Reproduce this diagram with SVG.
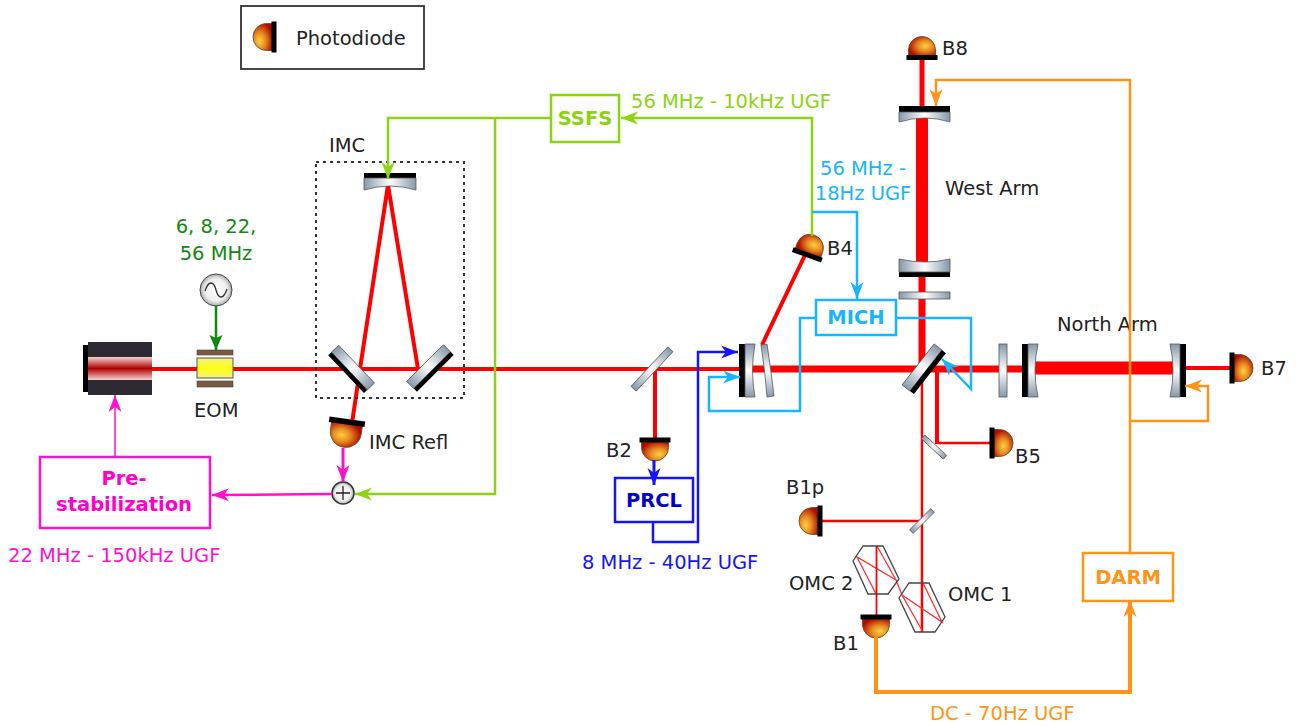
<svg xmlns="http://www.w3.org/2000/svg" xmlns:xlink="http://www.w3.org/1999/xlink" width="1300" height="726" viewBox="0 0 1300 726">
<style>
text{font-family:"DejaVu Sans",sans-serif;font-size:19.5px;fill:#222}
.b{font-weight:bold}
.m{text-anchor:middle}
.beam{stroke:#f00;fill:none}
.c{fill:none;stroke-linejoin:miter}
.box{fill:#fff;stroke-width:2.5}
.blk{fill:#000}
.mh{fill:url(#mH);stroke:#555;stroke-width:.8}
.mv{fill:url(#mV);stroke:#555;stroke-width:.8}
.hex{fill:none;stroke:#444;stroke-width:1.3}
</style>
<defs>
<linearGradient id="mH"><stop offset="0" stop-color="#8599aa"/><stop offset=".5" stop-color="#fff"/><stop offset="1" stop-color="#8599aa"/></linearGradient>
<linearGradient id="mV" x2="0" y2="1"><stop offset="0" stop-color="#8599aa"/><stop offset=".5" stop-color="#fff"/><stop offset="1" stop-color="#8599aa"/></linearGradient>
<linearGradient id="band" x2="0" y2="1"><stop offset="0" stop-color="#f6d4d4"/><stop offset=".5" stop-color="#b00000"/><stop offset="1" stop-color="#f6d4d4"/></linearGradient>
<linearGradient id="yel" x2="0" y2="1"><stop offset="0" stop-color="#f0f080"/><stop offset=".5" stop-color="#ffff10"/><stop offset="1" stop-color="#f0f080"/></linearGradient>
<radialGradient id="pdA" cx=".62" cy=".5" r=".62"><stop offset="0" stop-color="#fbd13f"/><stop offset=".45" stop-color="#e68a22"/><stop offset="1" stop-color="#b00c00"/></radialGradient>
<radialGradient id="pdB" cx=".35" cy=".35" r=".7"><stop offset="0" stop-color="#fbd13f"/><stop offset=".45" stop-color="#e68a22"/><stop offset="1" stop-color="#b00c00"/></radialGradient>
<radialGradient id="grey"><stop offset="0" stop-color="#fff"/><stop offset=".7" stop-color="#eee"/><stop offset="1" stop-color="#aaa"/></radialGradient>
<g id="pa"><path d="M-13.500,0V-5.500A13.500,13.500 0 0 1 13.500,-5.500V0Z" fill="url(#pdA)" stroke="#6a4a28" stroke-width=".9"/><rect x="-15.500" y="-.5" width="31" height="5" class="blk"/></g>
<g id="pb"><path d="M-13.500,0V-5.500A13.500,13.500 0 0 1 13.500,-5.500V0Z" fill="url(#pdB)" stroke="#6a4a28" stroke-width=".9"/><rect x="-15.500" y="-.5" width="31" height="5" class="blk"/></g>
<marker id="aG" markerUnits="userSpaceOnUse" markerWidth="18" markerHeight="15" viewBox="0 -7.500 18 15" refX="17" orient="auto"><path d="M17,0L0,-6.500L5,0L0,6.500Z" fill="#8cd411"/></marker>
<marker id="aC" markerUnits="userSpaceOnUse" markerWidth="18" markerHeight="15" viewBox="0 -7.500 18 15" refX="17" orient="auto"><path d="M17,0L0,-6.500L5,0L0,6.500Z" fill="#18b4ff"/></marker>
<marker id="aB" markerUnits="userSpaceOnUse" markerWidth="18" markerHeight="15" viewBox="0 -7.500 18 15" refX="17" orient="auto"><path d="M17,0L0,-6.500L5,0L0,6.500Z" fill="#1414ff"/></marker>
<marker id="aO" markerUnits="userSpaceOnUse" markerWidth="18" markerHeight="15" viewBox="0 -7.500 18 15" refX="17" orient="auto"><path d="M17,0L0,-6.500L5,0L0,6.500Z" fill="#ff9318"/></marker>
<marker id="aM" markerUnits="userSpaceOnUse" markerWidth="18" markerHeight="15" viewBox="0 -7.500 18 15" refX="17" orient="auto"><path d="M17,0L0,-6.500L5,0L0,6.500Z" fill="#ff10cc"/></marker>
<marker id="aD" markerUnits="userSpaceOnUse" markerWidth="18" markerHeight="15" viewBox="0 -7.500 18 15" refX="15" orient="auto"><path d="M15,0L0,-6.500L3,0L0,6.500Z" fill="#118811"/></marker>
</defs>
<rect width="1300" height="726" fill="#fff"/>

<g id="beams">
<path class="beam" stroke-width="4" d="M152,369H741M388,185L360,369M388,185L418,369M360,369L352,423M655,369V438M762,345L805,255"/>
<path class="beam" stroke-width="7" d="M745,369H1024M922,276V369"/>
<path class="beam" stroke-width="5" d="M922,60V110"/>
<path class="beam" stroke-width="12" d="M922,118V264"/>
<path class="beam" stroke-width="13" d="M1034,368H1174"/>
<path class="beam" stroke-width="4" d="M1184,368H1232M937,369V444"/>
<path class="beam" stroke-width="2.500" d="M937,443H992M922,369V632M822,521H922"/>
<path stroke="#ff3030" fill="none" stroke-width="1.300" d="M923,632L902,595L942,622L923,583M902,595L896,580L857,557L876,594M877,546L896,580"/>
<path class="beam" stroke-width="1.800" d="M876.500,546V617"/>
</g>

<g id="legend"><rect x="241" y="6" width="183" height="63" fill="none" stroke="#333" stroke-width="1.800"/><use xlink:href="#pb" transform="translate(272,37) rotate(-90)"/><text x="296" y="45">Photodiode</text></g>

<g id="laser"><rect x="88" y="342" width="64" height="53" fill="#2d2a33"/><rect x="83" y="345" width="5" height="47" class="blk"/><rect x="88" y="357" width="64" height="23" fill="url(#band)"/></g>

<g id="eom"><rect x="197" y="350" width="36" height="5" fill="#7a5a40" stroke="#444" stroke-width=".6"/><rect x="197" y="358" width="36" height="20" fill="url(#yel)" stroke="#555" stroke-width="1"/><rect x="197" y="381" width="36" height="6" fill="#7a5a40" stroke="#444" stroke-width=".6"/><text x="194" y="417">EOM</text></g>

<g id="oscillator"><circle cx="216" cy="290" r="16" fill="url(#grey)" stroke="#444" stroke-width="1"/><path d="M205,291C209,279 214,282 216,290C218,298 223,301 227,289" fill="none" stroke="#333" stroke-width="1.300"/><text class="m" x="216" y="233" style="fill:#118811">6, 8, 22,</text><text class="m" x="216" y="260" style="fill:#118811">56 MHz</text></g>

<g id="imc"><rect x="316" y="162" width="148" height="236" fill="none" stroke="#333" stroke-width="2" stroke-dasharray="3 4"/>
<rect x="364" y="173" width="52" height="5" class="blk"/><path class="mh" d="M364,178H416V190Q390,182 364,190Z"/>
<g transform="translate(351.500,369) rotate(46.500)"><rect x="-26" y="-7" width="52" height="10" class="mh"/><rect x="-26" y="3" width="52" height="4.500" class="blk"/></g>
<g transform="translate(430,368) rotate(-45)"><rect x="-26" y="-7" width="52" height="10" class="mh"/><rect x="-26" y="3" width="52" height="4.500" class="blk"/></g>
<text x="329" y="152">IMC</text></g>

<g id="imc-refl"><path d="M-15.500,0V-8A15.500,15.500 0 0 1 15.500,-8V0Z" transform="translate(347,424) rotate(188)" fill="url(#pdA)" stroke="#6a4a28" stroke-width=".9"/><rect x="-18" y="-3" width="36" height="5.500" class="blk" transform="translate(347,422) rotate(8)"/><text x="369" y="449">IMC Refl</text></g>
<g id="sum"><circle cx="343" cy="493" r="11" fill="url(#grey)" stroke="#333" stroke-width="1.500"/><path d="M336,493H350M343,486V500" stroke="#222" stroke-width="1.300"/></g>

<g id="prestab"><rect class="box" x="40" y="457" width="170" height="71" stroke="#ff10cc"/><text class="b m" x="124" y="485" style="fill:#ff00cc">Pre-</text><text class="b m" x="124" y="511" style="fill:#ff00cc">stabilization</text></g>
<text x="8" y="562" style="fill:#ff10cc">22 MHz - 150kHz UGF</text>

<g id="b2-pickoff"><g transform="translate(652,369) rotate(-47)"><rect x="-27" y="-3.500" width="54" height="7" class="mh"/></g></g>
<g id="b2"><use xlink:href="#pb" transform="translate(655,442) rotate(180)"/><text x="606" y="457">B2</text></g>
<g id="prcl"><rect class="box" x="615" y="478" width="78" height="44" stroke="#1414ff"/><text class="b m" x="654" y="507" style="fill:#0000cc">PRCL</text></g>
<text x="582" y="569" style="fill:#1414ff">8 MHz - 40Hz UGF</text>

<g id="prm"><rect x="739" y="344" width="6" height="53" class="blk"/><path class="mv" d="M745,344H755Q750,370 755,397H745Z"/><path class="mv" d="M761,345L767,344Q771,370 774,396L767,397Q765,370 761,345Z"/></g>

<g id="bs"><g transform="translate(924,369) rotate(-52)"><rect x="-26" y="-7.500" width="52" height="10" class="mh"/><rect x="-26" y="2.500" width="52" height="5" class="blk"/></g></g>
<g id="west-cp"><rect x="899" y="292" width="51" height="7" class="mh"/></g>
<g id="west-itm"><rect x="899" y="272" width="51" height="5" class="blk"/><path class="mh" d="M899,272V259Q925,265 950,259V272Z"/></g>
<g id="west-etm"><rect x="899" y="106" width="51" height="6" class="blk"/><path class="mh" d="M899,112H950V122Q925,114 899,122Z"/></g>
<g id="north-cp"><rect x="999" y="344" width="8" height="53" class="mv"/></g>
<g id="north-itm"><rect x="1022" y="344" width="6" height="53" class="blk"/><path class="mv" d="M1028,344H1038Q1032,370 1038,397H1028Z"/></g>
<g id="north-etm"><rect x="1180" y="344" width="6" height="53" class="blk"/><path class="mv" d="M1180,344H1170Q1176,370 1170,397H1180Z"/></g>
<text x="945" y="195">West Arm</text>
<text x="1057" y="331">North Arm</text>

<g id="b8"><use xlink:href="#pa" transform="translate(922,55.500)"/><text x="942" y="55">B8</text></g>
<g id="b4"><use xlink:href="#pa" transform="translate(808,253) rotate(20)"/><text x="827" y="255">B4</text></g>
<g id="b7"><use xlink:href="#pa" transform="translate(1234,368) rotate(90)"/><text x="1261" y="375">B7</text></g>
<g id="b5"><use xlink:href="#pa" transform="translate(994,443) rotate(90)"/><text x="1015" y="463">B5</text></g>
<g id="b5-pickoff"><g transform="translate(934,447) rotate(43)"><rect x="-15" y="-2.500" width="30" height="5" class="mh"/></g></g>
<g id="b1p-pickoff"><g transform="translate(922,521) rotate(-45)"><rect x="-15" y="-2.500" width="30" height="5" class="mh"/></g></g>
<g id="b1p"><use xlink:href="#pb" transform="translate(818,521) rotate(-90)"/><text x="786" y="494">B1p</text></g>
<g id="omc1"><path class="hex" d="M909,583H929L945,617L935,632H915L899,598Z"/><text x="948" y="601">OMC 1</text></g>
<g id="omc2"><path class="hex" d="M863,546H883L899,579L888,594H868L853,561Z"/><text x="789" y="590">OMC 2</text></g>
<g id="b1"><use xlink:href="#pb" transform="translate(876,619) rotate(180)"/><text x="833" y="650">B1</text></g>

<g id="ssfs"><rect class="box" x="551" y="95" width="68" height="47" stroke="#8cd411"/><text class="b m" x="585" y="125" style="fill:#8cd411">SSFS</text></g>
<text x="631" y="108" style="fill:#8cd411">56 MHz - 10kHz UGF</text>
<g id="mich"><rect class="box" x="816" y="300" width="80" height="35" stroke="#18b4ff"/><text class="b m" x="856" y="324" style="fill:#18b4ff">MICH</text></g>
<text class="m" x="863" y="175" style="fill:#18b4ff">56 MHz -</text>
<text class="m" x="863" y="200" style="fill:#18b4ff">18Hz UGF</text>
<g id="darm"><rect class="box" x="1083" y="553" width="90" height="48" stroke="#ff9318"/><text class="b m" x="1128" y="584" style="fill:#ff9318">DARM</text></g>
<text x="930" y="720" style="fill:#ff9318">DC - 70Hz UGF</text>

<g id="connectors">
<path class="c" stroke="#118811" stroke-width="2.500" d="M216,306V350" marker-end="url(#aD)"/>
<path class="c" stroke="#ff10cc" stroke-width="1.500" d="M115,457V395" marker-end="url(#aM)"/>
<path class="c" stroke="#ff10cc" stroke-width="3" d="M343,448V482" marker-end="url(#aM)"/>
<path class="c" stroke="#ff10cc" stroke-width="2.500" d="M332,494L212,495" marker-end="url(#aM)"/>
<path class="c" stroke="#8cd411" stroke-width="2.500" d="M495,118V494H355" marker-end="url(#aG)"/>
<path class="c" stroke="#8cd411" stroke-width="2.500" d="M551,118H388V179" marker-end="url(#aG)"/>
<path class="c" stroke="#8cd411" stroke-width="2.500" d="M812,236V118H621" marker-end="url(#aG)"/>
<path class="c" stroke="#18b4ff" stroke-width="2.500" d="M812,212H857V299" marker-end="url(#aC)"/>
<path class="c" stroke="#18b4ff" stroke-width="2.500" d="M816,318H800V411H709V377H740" marker-end="url(#aC)"/>
<path class="c" stroke="#18b4ff" stroke-width="2.500" d="M896,318H971V389L942,359" marker-end="url(#aC)"/>
<path class="c" stroke="#1414ff" stroke-width="3" d="M654,460V485" marker-end="url(#aB)"/>
<path class="c" stroke="#1414ff" stroke-width="2.500" d="M653,522V542H698V352H738" marker-end="url(#aB)"/>
<path class="c" stroke="#ff9318" stroke-width="4" d="M876,637V692H1130V600" marker-end="url(#aO)"/>
<path class="c" stroke="#ff9318" stroke-width="2.500" d="M1130,553V80H936V106" marker-end="url(#aO)"/>
<path class="c" stroke="#ff9318" stroke-width="2.500" d="M1130,421H1208V386H1185" marker-end="url(#aO)"/>
</g>
</svg>
